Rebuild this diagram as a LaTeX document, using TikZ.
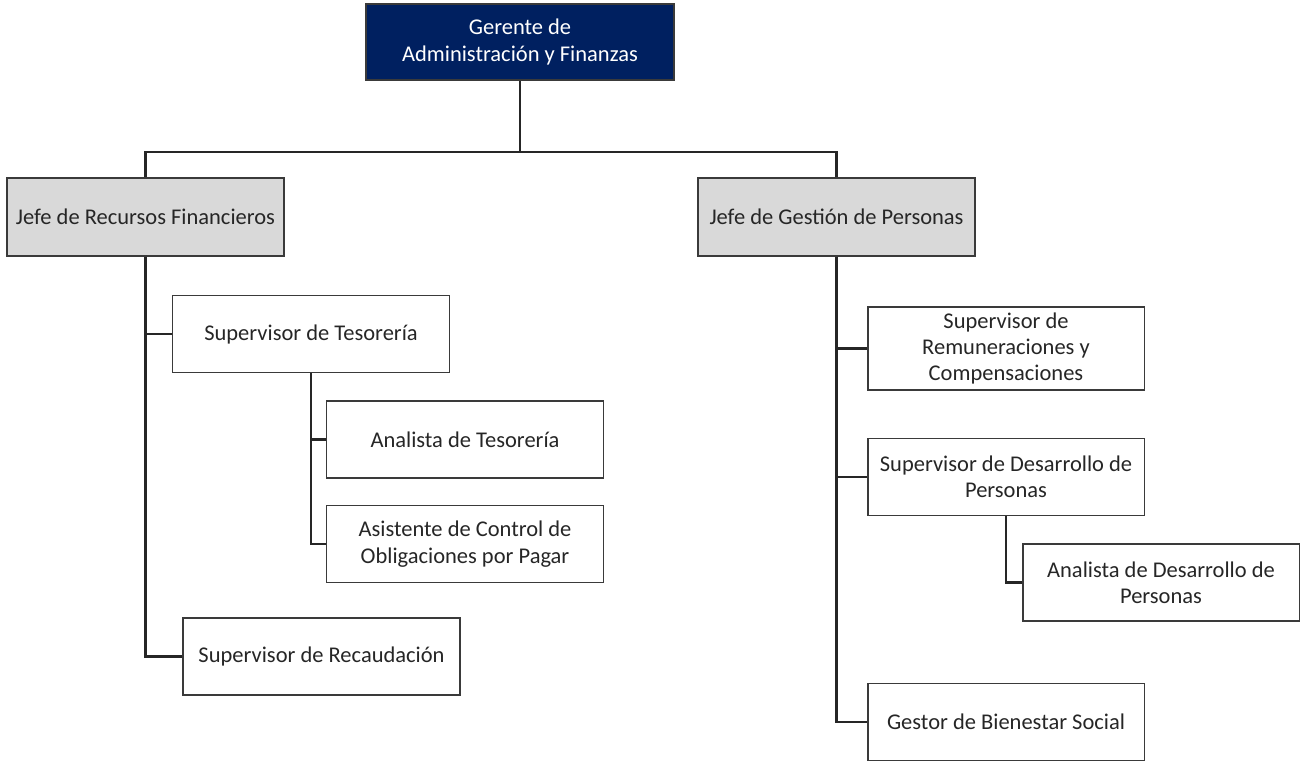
\documentclass[tikz,border=0pt]{standalone}
\usepackage{fontspec}
\setmainfont{Carlito}
\usepackage{tikz}
\usetikzlibrary{positioning}
\definecolor{navy}{HTML}{002060}
\definecolor{jefegray}{HTML}{D9D9D9}
\definecolor{edgegray}{HTML}{3A3A3A}

\begin{document}
\begin{tikzpicture}[x=0.02cm,y=-0.02cm,
    bx/.style={rectangle,draw=edgegray,line width=1.1pt,minimum width=5.54cm,
      minimum height=1.54cm,align=center,text=black!85,
      font=\fontsize{12.8}{15}\selectfont},
    jefe/.style={bx,fill=jefegray,minimum height=1.56cm},
    ger/.style={bx,fill=navy,text=white,minimum width=6.16cm,minimum height=1.52cm},
    ln/.style={line width=1.2pt,draw=black!85}]
  \useasboundingbox (0,0) rectangle (1304,764);
  \node[ger](ger) at (520,42){Gerente de\\Administración y Finanzas};
  \node[jefe](jrf) at (145.5,217){Jefe de Recursos Financieros};
  \node[jefe](jgp) at (836.5,217){Jefe de Gestión de Personas};
  \node[bx](suptes) at (311,334){Supervisor de Tesorería};
  \node[bx](anates) at (465,439.5){Analista de Tesorería};
  \node[bx](asicon) at (465,544){Asistente de Control de\\Obligaciones por Pagar};
  \node[bx](suprec) at (321.5,656.5){Supervisor de Recaudación};
  \node[bx](suprem) at (1006,348.5){Supervisor de\\Remuneraciones y\\Compensaciones};
  \node[bx](supdes) at (1006,477){Supervisor de Desarrollo de\\Personas};
  \node[bx](anades) at (1161,582.5){Analista de Desarrollo de\\Personas};
  \node[bx](gesbie) at (1006,722){Gestor de Bienestar Social};
  \coordinate (bus) at (520,152);
  \draw[ln](ger.south)--(bus);
  \draw[ln](jrf.north)|-(bus)-|(jgp.north);
  \draw[ln](jrf.south)|-(suptes.west);
  \draw[ln](jrf.south)|-(suprec.west);
  \draw[ln](suptes.south)|-(anates.west);
  \draw[ln](suptes.south)|-(asicon.west);
  \draw[ln](jgp.south)|-(suprem.west);
  \draw[ln](jgp.south)|-(supdes.west);
  \draw[ln](jgp.south)|-(gesbie.west);
  \draw[ln](supdes.south)|-(anades.west);
\end{tikzpicture}
\end{document}
